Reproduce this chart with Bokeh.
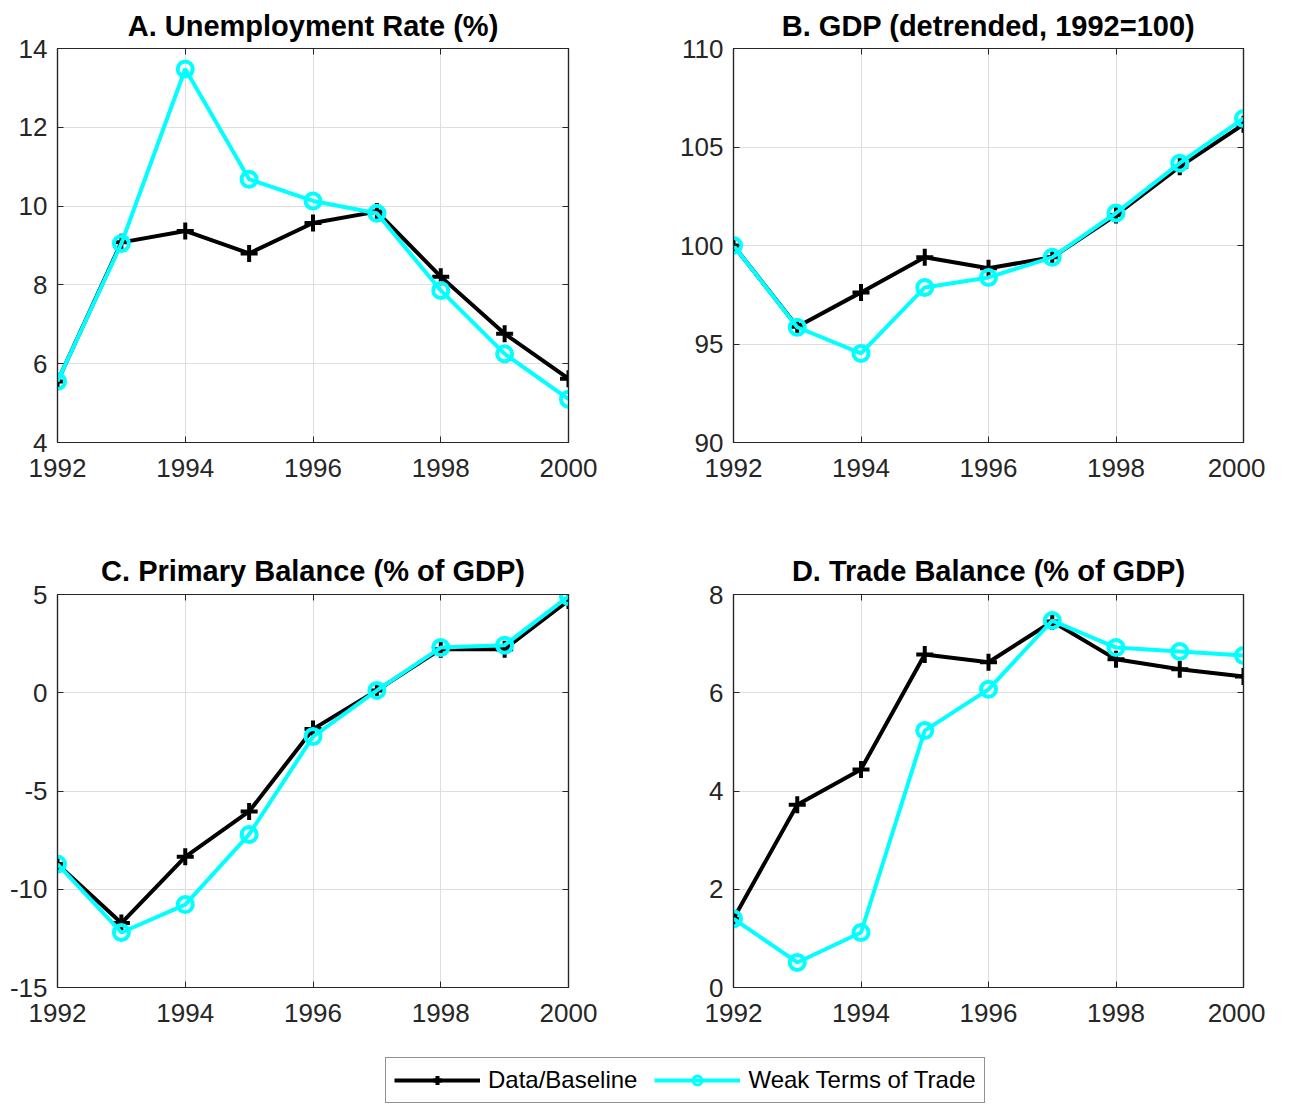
from bokeh.plotting import figure
from bokeh.layouts import column, row
from bokeh.models import (Range1d, FixedTicker, LinearAxis, ColumnDataSource,
                          Legend, LegendItem)
from bokeh.embed import file_html
from bokeh.resources import INLINE

# ---------------- data ----------------
years = [1992, 1993, 1994, 1995, 1996, 1997, 1998, 1999, 2000]
x_ticks = [1992, 1994, 1996, 1998, 2000]

unemp_base = [5.55, 9.08, 9.37, 8.80, 9.57, 9.86, 8.21, 6.76, 5.62]
unemp_weak = [5.55, 9.05, 13.48, 10.68, 10.13, 9.82, 7.86, 6.25, 5.10]

gdp_base = [100.0, 95.88, 97.62, 99.40, 98.85, 99.40, 101.55, 104.0, 106.15]
gdp_weak = [100.0, 95.85, 94.52, 97.87, 98.38, 99.40, 101.65, 104.18, 106.45]

pb_base = [-8.72, -11.72, -8.35, -6.04, -1.85, 0.12, 2.22, 2.22, 4.70]
pb_weak = [-8.72, -12.20, -10.78, -7.21, -2.23, 0.12, 2.30, 2.42, 4.90]

tb_base = [1.40, 3.72, 4.44, 6.78, 6.62, 7.45, 6.68, 6.48, 6.33]
tb_weak = [1.40, 0.51, 1.12, 5.23, 6.07, 7.47, 6.92, 6.84, 6.76]

titles = ["A. Unemployment Rate (%)", "B. GDP (detrended, 1992=100)",
          "C. Primary Balance (% of GDP)", "D. Trade Balance (% of GDP)"]
y_limits = [(4, 14), (90, 110), (-15, 5), (0, 8)]
y_ticks = [[4, 6, 8, 10, 12, 14], [90, 95, 100, 105, 110],
           [-15, -10, -5, 0, 5], [0, 2, 4, 6, 8]]

series_names = ["Data/Baseline", "Weak Terms of Trade"]

# ---------------- style ----------------
FONT = "Liberation Sans"
AX_COL = "#262626"
CYAN = "#00FFFF"
TICK_FS = "26px"
TITLE_FS = "29px"


def make_panel(title, base, weak, ylim, yt, borders, fh, fw, standoff):
    bl, br, bt, bb = borders
    p = figure(frame_width=fw, frame_height=fh,
               x_range=Range1d(years[0], years[-1]), y_range=Range1d(*ylim),
               output_backend="svg", toolbar_location=None,
               min_border_left=bl, min_border_right=br,
               min_border_top=bt, min_border_bottom=bb,
               x_axis_location=None, y_axis_location=None)
    p.title.text = title
    p.title.align = "center"
    p.title.text_font = FONT
    p.title.text_font_size = TITLE_FS
    p.title.text_font_style = "bold"
    p.title.text_color = "black"
    p.title.standoff = standoff
    p.background_fill_color = "white"
    p.border_fill_color = "white"
    p.outline_line_color = AX_COL
    p.outline_line_width = 1.2

    for side in ("left", "right", "below", "above"):
        vertical = side in ("left", "right")
        ticks = yt if vertical else x_ticks
        ax = LinearAxis()
        ax.ticker = FixedTicker(ticks=ticks)
        ax.axis_line_color = AX_COL
        ax.axis_line_width = 1.2
        ax.major_tick_line_color = AX_COL
        ax.major_tick_in = 6
        ax.major_tick_out = 0
        ax.minor_tick_line_color = None
        ax.major_label_text_font = FONT
        if side in ("left", "below"):
            ax.major_label_text_color = AX_COL
            ax.major_label_text_font_size = TICK_FS
            ax.major_label_standoff = 10 if vertical else 16
            ax.major_label_overrides = {t: str(t) for t in ticks}
        else:
            ax.major_label_text_color = None
            ax.major_label_text_font_size = "1px"
            ax.major_label_standoff = 0
        p.add_layout(ax, side)

    p.xgrid.ticker = FixedTicker(ticks=x_ticks)
    p.ygrid.ticker = FixedTicker(ticks=yt)
    p.grid.grid_line_color = "#dedede"
    p.grid.grid_line_width = 1

    src_b = ColumnDataSource(dict(x=years, y=base))
    src_w = ColumnDataSource(dict(x=years, y=weak))
    p.line("x", "y", source=src_b, line_color="black", line_width=4)
    p.scatter("x", "y", source=src_b, marker="cross", size=17,
              line_color="black", line_width=4)
    p.line("x", "y", source=src_w, line_color=CYAN, line_width=4)
    p.scatter("x", "y", source=src_w, marker="circle", size=15,
              fill_color=None, line_color=CYAN, line_width=4)
    return p


pA = make_panel(titles[0], unemp_base, unemp_weak, y_limits[0], y_ticks[0],
                (57, 72, 48, 103), 394, 511, 14)
pB = make_panel(titles[1], gdp_base, gdp_weak, y_limits[1], y_ticks[1],
                (93, 22, 48, 103), 394, 510, 14)
pC = make_panel(titles[2], pb_base, pb_weak, y_limits[2], y_ticks[2],
                (57, 72, 49, 63), 393, 511, 15)
pD = make_panel(titles[3], tb_base, tb_weak, y_limits[3], y_ticks[3],
                (93, 22, 49, 63), 393, 510, 15)

# ---------------- legend ----------------
pl = figure(width=1265, height=54, x_range=Range1d(0, 1), y_range=Range1d(0, 1),
            output_backend="svg", toolbar_location=None,
            min_border_left=0, min_border_right=0, min_border_top=0,
            min_border_bottom=0, x_axis_location=None, y_axis_location=None)
pl.outline_line_color = None
pl.grid.visible = False
off = ColumnDataSource(dict(x=[-5, -4], y=[-5, -5]))
lb = pl.line("x", "y", source=off, line_color="black", line_width=4)
mb = pl.scatter("x", "y", source=off, marker="cross", size=17,
                line_color="black", line_width=4)
lw = pl.line("x", "y", source=off, line_color=CYAN, line_width=4)
mw = pl.scatter("x", "y", source=off, marker="circle", size=13,
                fill_color=None, line_color=CYAN, line_width=3)
legend = Legend(items=[LegendItem(label=series_names[0], renderers=[lb, mb]),
                       LegendItem(label=series_names[1], renderers=[lw, mw])],
                orientation="horizontal", location=(385, 1))
legend.glyph_width = 86
legend.glyph_height = 22
legend.label_text_font = FONT
legend.label_text_font_size = "24px"
legend.label_text_color = "black"
legend.label_height = 22
legend.label_standoff = 8
legend.spacing = 17
legend.padding = 8
legend.margin = 0
legend.border_line_color = AX_COL
legend.border_line_width = 1.2
legend.background_fill_color = "white"
legend.background_fill_alpha = 1
pl.add_layout(legend, "center")

layout = column(row(pA, pB), row(pC, pD), pl)

open("out.html", "w").write(file_html(layout, INLINE))
